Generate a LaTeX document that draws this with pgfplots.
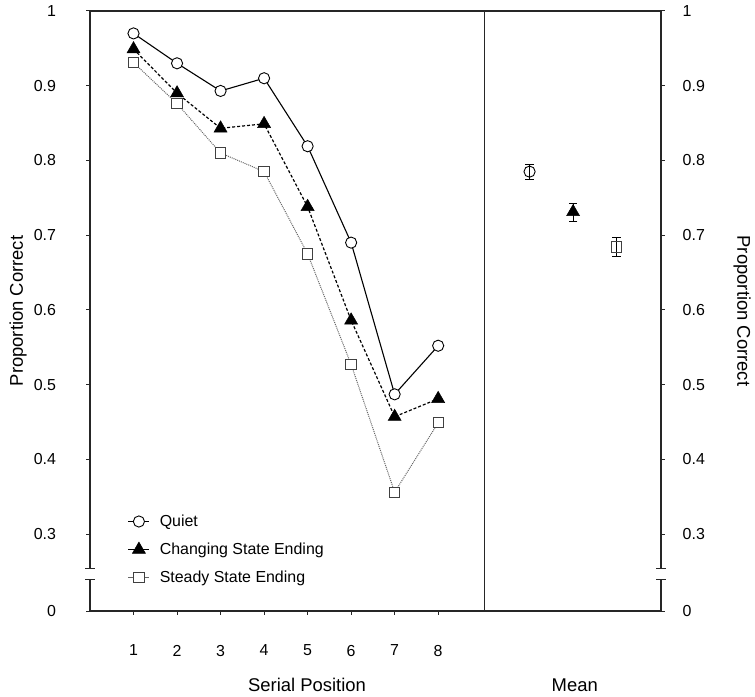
\documentclass[border=0pt]{standalone}
\usepackage{fontspec}
\setmainfont{Liberation Sans}
\usepackage{pgfplots}
\pgfplotsset{compat=1.18}
\usetikzlibrary{calc}
\begin{document}
\begin{tikzpicture}
\pgfplotsset{
  common/.style={
    width=571bp, height=600bp, scale only axis,
    xmin=0, xmax=13.12, ymin=0.197, ymax=1,
    clip=false,
    /pgf/number format/assume math mode=true,
    tick label style={font=\fontsize{16}{19}\selectfont},
    label style={font=\fontsize{18.5}{22}\selectfont},
    axis line style={black!85, line width=1.1bp},
    major tick length=3.5bp,
    tick align=outside,
    tick style={black!85, line width=1bp},
    ytick={0.197,0.3,0.4,0.5,0.6,0.7,0.8,0.9,1},
    yticklabels={0,0.3,0.4,0.5,0.6,0.7,0.8,0.9,1},
  },
  quiet/.style={black, line width=1.1bp, solid, mark=*, mark size=5.6bp, mark options={solid, fill=white, draw=black, line width=0.9bp}},
  chang/.style={black, line width=1.2bp, densely dashed, mark=triangle*, mark size=7.5bp, mark options={solid, fill=black, draw=black, line width=0.5bp}},
  steady/.style={black!60, line width=1bp, densely dotted, mark=square*, mark size=5.2bp, mark options={solid, fill=white, draw=black!75, line width=0.9bp}},
}
\begin{axis}[common, name=ax,
  xtick={1,2,3,4,5,6,7,8}, xtick pos=bottom, ytick pos=left,
  xticklabel style={yshift=-27bp},
  yticklabel style={xshift=-27bp},
  ylabel={Proportion Correct},
  ylabel style={at={(axis description cs:-0.126,0.5)}, anchor=center},
  legend style={at={(rel axis cs:0.061,0.167)}, anchor=north west, draw=none, fill=none,
    font=\fontsize{16}{19}\selectfont, row sep=11bp, column sep=8bp, cells={anchor=west}},
  legend image code/.code={\draw[mark repeat=2,mark phase=2,solid,line width=0.8bp] plot coordinates {(0bp,0bp) (10.5bp,0bp) (21bp,0bp)};},
]
\addplot[quiet] coordinates {(1,0.970) (2,0.930) (3,0.893) (4,0.910) (5,0.819) (6,0.690) (7,0.487) (8,0.552)};
\addlegendentry{Quiet}
\addplot[chang] coordinates {(1,0.949) (2,0.890) (3,0.843) (4,0.849) (5,0.738) (6,0.586) (7,0.457) (8,0.481)};
\addlegendentry{Changing State Ending}
\addplot[steady] coordinates {(1,0.931) (2,0.876) (3,0.810) (4,0.785) (5,0.675) (6,0.527) (7,0.356) (8,0.449)};
\addlegendentry{Steady State Ending}
% means
\addplot[only marks, mark=o, mark size=5.6bp, mark options={black, line width=0.9bp},
  error bars/.cd, y dir=both, y explicit, error bar style={black, line width=0.9bp},
  error mark options={rotate=90, mark size=4.2bp, line width=0.9bp}]
  coordinates {(10.1,0.785) +- (0,0.010)};
\addplot[only marks, mark=triangle*, mark size=7.5bp, mark options={black, fill=black, line width=0.5bp},
  error bars/.cd, y dir=both, y explicit, error bar style={black, line width=0.9bp},
  error mark options={rotate=90, mark size=4.2bp, line width=0.9bp}]
  coordinates {(11.1,0.731) +- (0,0.012)};
\addplot[only marks, mark=square, mark size=5.2bp, mark options={black!75, line width=0.9bp},
  error bars/.cd, y dir=both, y explicit, error bar style={black, line width=0.9bp},
  error mark options={rotate=90, mark size=4.2bp, line width=0.9bp}]
  coordinates {(12.1,0.684) +- (0,0.013)};
\draw[black!85, line width=1.1bp] (axis cs:9.07,0.197) -- (axis cs:9.07,1);
\node[font=\fontsize{18.5}{22}\selectfont] at (axis description cs:0.38,-0.123) {Serial Position};
\node[font=\fontsize{18.5}{22}\selectfont] at (axis description cs:0.849,-0.123) {Mean};
\end{axis}
\begin{axis}[common,
  axis x line=none, axis y line*=right,
  yticklabel style={xshift=14.7bp},
  ylabel={Proportion Correct},
  ylabel style={at={(axis description cs:1.142,0.5)}, anchor=center, rotate=180},
]
\fill[white] (axis cs:-0.25,0.2396) rectangle (axis cs:0.25,0.2544);
\fill[white] (axis cs:12.87,0.2396) rectangle (axis cs:13.37,0.2544);
\draw[black!85, line width=1.1bp] (axis cs:-0.105,0.2544) -- (axis cs:0.105,0.2544);
\draw[black!85, line width=1.1bp] (axis cs:-0.105,0.2396) -- (axis cs:0.105,0.2396);
\draw[black!85, line width=1.1bp] (axis cs:13.015,0.2544) -- (axis cs:13.225,0.2544);
\draw[black!85, line width=1.1bp] (axis cs:13.015,0.2396) -- (axis cs:13.225,0.2396);
\coordinate (BL) at (rel axis cs:0,0);
\coordinate (TR) at (rel axis cs:1,1);
\end{axis}
\path ($(BL)+(-90bp,-86bp)$) rectangle ($(TR)+(94bp,11bp)$);
\end{tikzpicture}
\end{document}
